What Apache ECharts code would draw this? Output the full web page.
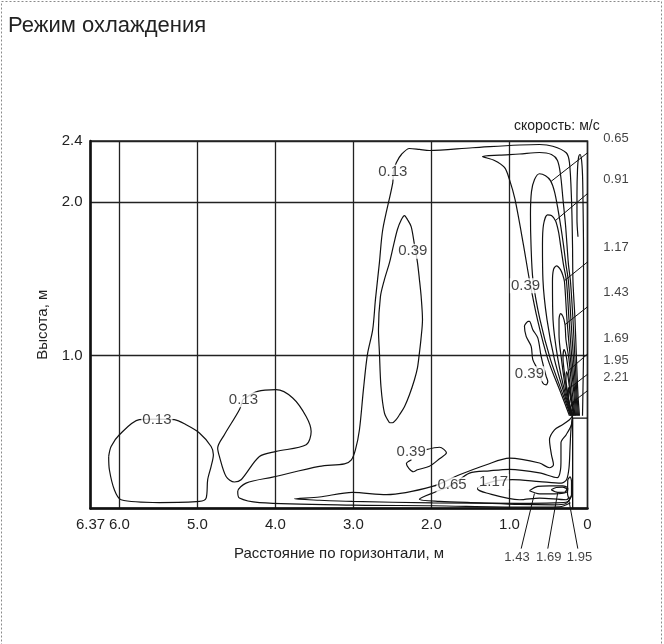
<!DOCTYPE html>
<html><head><meta charset="utf-8">
<script src="https://cdn.jsdelivr.net/npm/echarts@6/dist/echarts.min.js"></script>
<style>html,body{margin:0;padding:0;background:#fff}#c{width:664px;height:644px}</style>
</head><body><div id="c"></div>
<script>
// ---- axis ticks ----
const xTicks = [0, 1, 2, 3, 4, 5, 6, 6.37];
const yTicks = [1.0, 2.0, 2.4];

// ---- contour lines (x: distance from wall, m; y: height, m) ----
const c013Outer = [[0.218,0.037],[0.359,0.011],[0.872,0.009],[1.987,0.018],[3.013,0.022],[4.205,0.039],[4.462,0.068],[4.483,0.111],[4.376,0.166],[4.035,0.205],[3.436,0.275],[3.115,0.292],[3.026,0.318],[2.974,0.384],[2.923,0.514],[2.872,0.776],[2.821,1.005],[2.753,1.168],[2.718,1.364],[2.667,1.606],[2.624,1.822],[2.496,2.127],[2.487,2.201],[2.449,2.260],[2.385,2.312],[2.282,2.351],[2.154,2.345],[2.026,2.338],[1.474,2.356],[0.615,2.377],[0.445,2.366],[0.273,2.323],[0.231,2.258],[0.205,2.018],[0.192,1.722],[0.186,1.481],[0.160,1.233],[0.141,0.972],[0.122,0.743],[0.103,0.606]];
const c013Left = [[6.137,0.340],[6.106,0.405],[6.0,0.482],[5.744,0.580],[5.53,0.584],[5.295,0.580],[5.145,0.547],[4.974,0.493],[4.824,0.405],[4.795,0.351],[4.824,0.275],[4.868,0.188],[4.888,0.068],[4.974,0.046],[5.487,0.039],[5.978,0.057],[6.064,0.122],[6.128,0.253],[6.137,0.340]];
const c013Mid = [[4.419,0.710],[4.227,0.765],[3.991,0.776],[3.778,0.722],[3.606,0.601],[3.542,0.503],[3.606,0.416],[3.991,0.373],[4.205,0.340],[4.440,0.188],[4.526,0.173],[4.632,0.209],[4.718,0.340],[4.740,0.395],[4.654,0.482],[4.462,0.645],[4.419,0.710]];
const c039Mid = [[2.538,0.560],[2.603,0.625],[2.647,0.795],[2.667,1.018],[2.679,1.168],[2.654,1.384],[2.603,1.495],[2.538,1.606],[2.487,1.717],[2.436,1.822],[2.385,1.887],[2.346,1.913],[2.308,1.887],[2.260,1.841],[2.218,1.723],[2.179,1.606],[2.154,1.495],[2.132,1.384],[2.115,1.233],[2.135,1.103],[2.154,1.018],[2.179,0.920],[2.218,0.841],[2.282,0.743],[2.346,0.665],[2.410,0.612],[2.453,0.580],[2.5,0.560],[2.538,0.560]];
const c039Jet = [[0.231,0.606],[0.333,0.743],[0.506,0.972],[0.641,1.233],[0.744,1.493],[0.821,1.722],[0.929,2.018],[1.0,2.148],[1.064,2.227],[1.192,2.273],[1.346,2.299],[1.128,2.308],[0.872,2.315],[0.615,2.325],[0.462,2.312],[0.385,2.273],[0.346,2.181],[0.314,2.018],[0.282,1.853],[0.263,1.722],[0.244,1.593],[0.218,1.481],[0.186,1.233],[0.160,0.972],[0.135,0.743],[0.115,0.606]];
const c039Island = [[0.765,1.222],[0.808,1.19],[0.786,1.124],[0.722,1.059],[0.701,0.972],[0.637,0.907],[0.573,0.82],[0.53,0.808],[0.509,0.83],[0.53,0.863],[0.594,0.993],[0.637,1.114],[0.701,1.168],[0.744,1.222],[0.765,1.222]];
const c039Floor = [[0.2,0.09],[0.256,0.044],[0.423,0.037],[0.872,0.034],[1.987,0.037],[3.013,0.046],[3.436,0.054],[3.756,0.063],[3.436,0.075],[3.013,0.105],[2.577,0.09],[1.987,0.144],[1.641,0.220],[1.295,0.286],[1.0,0.329],[0.615,0.297],[0.487,0.266],[0.436,0.286],[0.462,0.351],[0.487,0.449],[0.423,0.514],[0.321,0.547],[0.231,0.580],[0.192,0.606]];
const c039FloorSmall = [[2.068,0.384],[1.897,0.400],[1.808,0.364],[1.897,0.325],[2.026,0.276],[2.179,0.253],[2.231,0.240],[2.321,0.292],[2.256,0.318]];
const c065Jet = [[0.218,0.606],[0.314,0.743],[0.474,0.972],[0.609,1.233],[0.699,1.493],[0.724,1.722],[0.731,1.918],[0.718,2.069],[0.679,2.148],[0.615,2.186],[0.538,2.173],[0.474,2.141],[0.423,2.069],[0.378,1.952],[0.340,1.834],[0.308,1.722],[0.276,1.593],[0.244,1.481],[0.212,1.233],[0.179,0.972],[0.147,0.743],[0.128,0.606]];
const c065Floor = [[0.231,0.057],[0.282,0.031],[0.423,0.024],[0.872,0.027],[1.385,0.037],[1.897,0.047],[2.154,0.061],[1.936,0.111],[1.731,0.155],[1.513,0.231],[1.256,0.246],[1.0,0.256],[0.615,0.233],[0.385,0.201],[0.346,0.253],[0.340,0.318],[0.340,0.429],[0.273,0.482],[0.205,0.547],[0.192,0.606]];
const c091Jet = [[0.212,0.606],[0.295,0.743],[0.423,0.972],[0.519,1.233],[0.571,1.493],[0.577,1.722],[0.564,1.853],[0.513,1.918],[0.462,1.913],[0.410,1.879],[0.372,1.808],[0.346,1.722],[0.308,1.593],[0.269,1.481],[0.237,1.233],[0.199,0.972],[0.160,0.743],[0.141,0.606]];
const c117Jet = [[0.205,0.606],[0.282,0.743],[0.378,0.972],[0.442,1.233],[0.449,1.481],[0.436,1.560],[0.397,1.585],[0.346,1.560],[0.314,1.520],[0.295,1.481],[0.263,1.233],[0.218,0.972],[0.173,0.743],[0.154,0.606]];
const c117Floor = [[0.231,0.076],[0.273,0.057],[0.615,0.068],[0.872,0.057],[1.295,0.101],[1.410,0.129],[1.218,0.176],[0.962,0.188],[0.615,0.176],[0.337,0.166],[0.269,0.188],[0.237,0.266],[0.224,0.397],[0.212,0.514],[0.192,0.606]];
const c143Jet = [[0.199,0.606],[0.269,0.743],[0.333,0.972],[0.365,1.135],[0.365,1.233],[0.346,1.273],[0.314,1.253],[0.288,1.201],[0.276,1.102],[0.237,0.972],[0.192,0.743],[0.160,0.606]];
const c143Floor = [[0.744,0.116],[0.637,0.144],[0.487,0.148],[0.317,0.148],[0.253,0.133],[0.269,0.106],[0.423,0.096],[0.615,0.096],[0.744,0.116]];
const c169Jet = [[0.192,0.606],[0.244,0.711],[0.276,0.808],[0.301,0.907],[0.314,0.985],[0.301,1.037],[0.276,1.004],[0.256,0.939],[0.231,0.841],[0.205,0.724],[0.167,0.606]];
const c169Floor = [[0.465,0.122],[0.401,0.137],[0.321,0.139],[0.265,0.127],[0.295,0.106],[0.381,0.105],[0.465,0.122]];
const c195Jet = [[0.186,0.606],[0.231,0.684],[0.256,0.763],[0.276,0.841],[0.269,0.893],[0.250,0.861],[0.231,0.789],[0.205,0.711],[0.173,0.606]];
const c195Floor = [[0.253,0.188],[0.224,0.207],[0.205,0.175],[0.205,0.09],[0.231,0.063],[0.256,0.096],[0.253,0.188]];
const c221Jet = [[0.190,0.606],[0.228,0.671],[0.246,0.737],[0.244,0.789],[0.231,0.763],[0.212,0.697],[0.179,0.606]];
const cWallJet = [[0.122,1.775],[0.135,1.887],[0.135,2.049],[0.128,2.214],[0.115,2.292],[0.096,2.312],[0.077,2.279],[0.064,2.181],[0.058,2.018],[0.051,1.691],[0.051,1.364],[0.051,1.037],[0.058,0.776],[0.064,0.606]];

const contours = [c013Outer, c013Left, c013Mid, c039Mid, c039Jet, c039Island, c039Floor, c039FloorSmall,
  c065Jet, c065Floor, c091Jet, c117Jet, c117Floor, c143Jet, c143Floor, c169Jet, c169Floor,
  c195Jet, c195Floor, c221Jet, cWallJet];

// supply unit outline at the wall
const unitOutline = [[0.19,0],[0.19,0.59],[0,0.59]];

// ---- contour labels inside the plot [x, y, text] ----
const plotLabels = [[5.519,0.580,'0.13'],[4.41,0.711,'0.13'],[2.496,2.197,'0.13'],[2.240,1.680,'0.39'],
  [0.795,1.455,'0.39'],[0.744,0.880,'0.39'],[2.260,0.371,'0.39'],[1.737,0.155,'0.65'],[1.205,0.176,'1.17']];

// ---- labels outside the plot with leader lines ----
const sideLabels = [[-0.365,2.415,'0.65'],[-0.365,2.150,'0.91'],[-0.365,1.703,'1.17'],[-0.365,1.408,'1.43'],
  [-0.365,1.110,'1.69'],[-0.365,0.966,'1.95'],[-0.365,0.858,'2.21'],
  [0.904,-0.319,'1.43'],[0.497,-0.319,'1.69'],[0.103,-0.319,'1.95']];
const leaderLines = [
  [[-0.218,2.41],[0.465,2.137]],
  [[-0.218,2.15],[0.405,1.883]],
  [[-0.218,1.70],[0.29,1.49]],
  [[-0.218,1.405],[0.288,1.201]],
  [[-0.218,1.105],[0.245,0.90]],
  [[-0.218,0.962],[0.22,0.79]],
  [[-0.218,0.856],[0.20,0.69]],
  [[0.68,0.098],[0.85,-0.262]],
  [[0.381,0.105],[0.509,-0.262]],
  [[0.240,0.057],[0.124,-0.262]]
];

const FONT = "'Liberation Sans', Arial, sans-serif";
const INK = '#111';

const series = [];
contours.forEach(d => series.push({
  type: 'line', data: d, showSymbol: false, smooth: 0.3, silent: true, z: 2,
  lineStyle: { color: INK, width: 1.2 }
}));
series.push({ type: 'line', data: unitOutline, showSymbol: false, silent: true, z: 3,
  lineStyle: { color: INK, width: 1.3 } });
leaderLines.forEach(d => series.push({
  type: 'line', data: d, showSymbol: false, silent: true, clip: false, z: 3,
  lineStyle: { color: INK, width: 1 }
}));
series.push({
  type: 'scatter', data: plotLabels, symbolSize: 1, silent: true, z: 6,
  itemStyle: { color: 'rgba(0,0,0,0)' },
  label: { show: true, position: 'inside', formatter: p => p.data[2], color: '#111',
    fontFamily: FONT, fontSize: 15, backgroundColor: '#fff', padding: [0, 1] }
});
series.push({
  type: 'scatter', data: sideLabels, symbolSize: 1, silent: true, clip: false, z: 6,
  itemStyle: { color: 'rgba(0,0,0,0)' },
  label: { show: true, position: 'inside', formatter: p => p.data[2], color: '#111',
    fontFamily: FONT, fontSize: 13 }
});

const chart = echarts.init(document.getElementById('c'), null, { renderer: 'canvas' });
chart.setOption({
  animation: false,
  backgroundColor: '#fff',
  title: { text: 'Режим охлаждения', left: 3, top: 10,
    textStyle: { fontFamily: FONT, fontSize: 22, fontWeight: 'normal', color: '#222' } },
  graphic: [
    { type: 'rect', shape: { x: 1.5, y: 1.5, width: 660, height: 700 }, silent: true,
      style: { fill: 'none', stroke: '#8a8a8a', lineWidth: 1, lineDash: [2, 2] } },
    { type: 'text', left: 514, top: 119, silent: true,
      style: { text: 'скорость: м/с', font: "14px 'Liberation Sans', Arial, sans-serif", fill: '#222' } }
  ],
  grid: { left: 90.5, right: 76.5, top: 141, bottom: 135.5, show: true,
    borderColor: '#222', borderWidth: 1.5, backgroundColor: 'rgba(0,0,0,0)' },
  xAxis: {
    type: 'value', inverse: true, min: 0, max: 6.37, interval: 1,
    name: 'Расстояние по горизонтали, м', nameLocation: 'middle', nameGap: 38,
    nameTextStyle: { fontFamily: FONT, fontSize: 15, color: '#222' },
    axisLine: { show: true, onZero: false, lineStyle: { color: '#111', width: 2.5 } },
    axisTick: { show: false },
    axisLabel: { customValues: xTicks, fontFamily: FONT, fontSize: 15, color: '#222', margin: 9,
      formatter: v => v === 0 ? '0' : (Number.isInteger(v) ? v.toFixed(1) : String(v)) },
    splitLine: { show: true, lineStyle: { color: '#222', width: 1.3 } }
  },
  yAxis: {
    type: 'value', min: 0, max: 2.4, interval: 1,
    name: 'Высота, м', nameLocation: 'middle', nameGap: 39, nameRotate: 90,
    nameTextStyle: { fontFamily: FONT, fontSize: 15, color: '#222' },
    axisLine: { show: true, onZero: false, lineStyle: { color: '#111', width: 2.5 } },
    axisTick: { show: false },
    axisLabel: { customValues: yTicks, fontFamily: FONT, fontSize: 15, color: '#222', margin: 8,
      formatter: v => v.toFixed(1) },
    splitLine: { show: true, lineStyle: { color: '#222', width: 1.3 } }
  },
  series: series
});
</script></body></html>
